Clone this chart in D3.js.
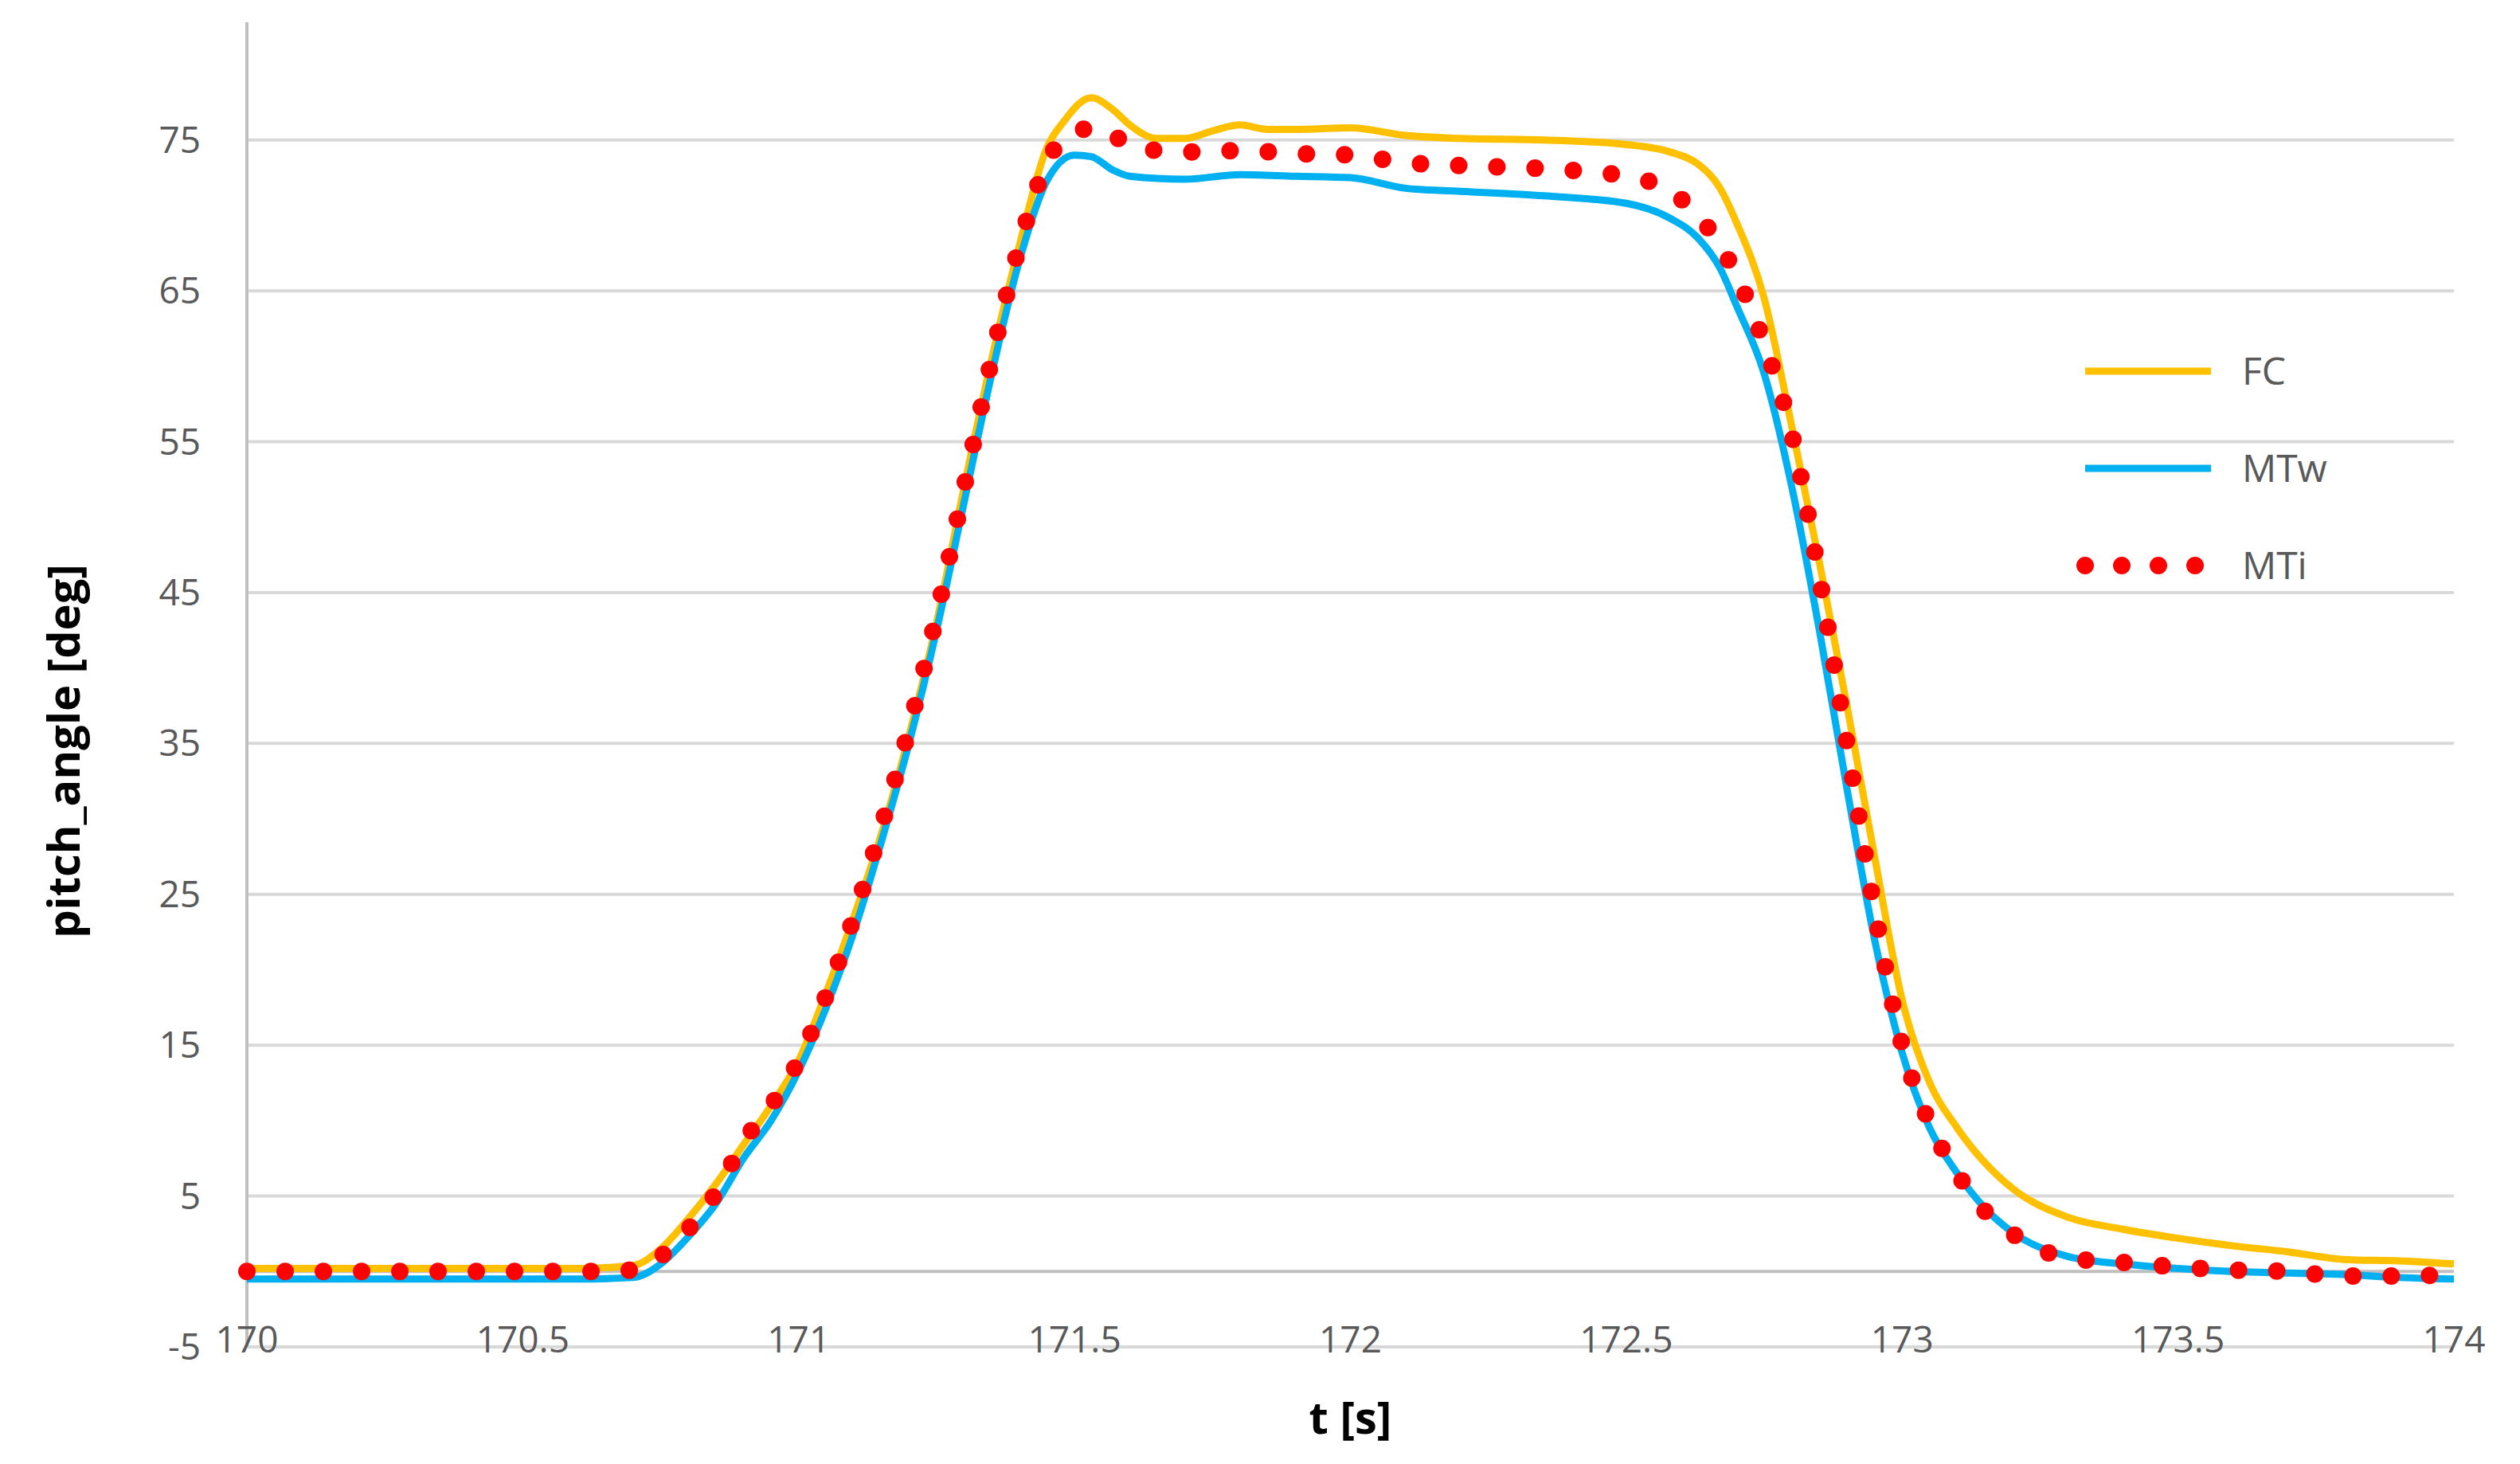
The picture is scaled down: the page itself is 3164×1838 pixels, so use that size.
<!DOCTYPE html>
<html lang="en">
<head>
<meta charset="UTF-8">
<title>pitch angle</title>
<style>
  body { margin: 0; background: #fff; }
  text { font-family: "Open Sans", "Noto Sans", sans-serif; }
</style>
</head>
<body>
<script src="https://cdn.jsdelivr.net/npm/d3@7"></script>
<script>
    // time samples [s] and the three series [deg]
    var tFC = [170, 170.3, 170.6, 170.7, 170.75, 170.8, 170.85, 170.9, 170.95, 171, 171.05, 171.1, 171.15, 171.2, 171.25, 171.3, 171.35, 171.4, 171.45, 171.48, 171.53, 171.57, 171.6, 171.65, 171.7, 171.75, 171.8, 171.85, 171.9, 172, 172.1, 172.2, 172.35, 172.5, 172.58, 172.63, 172.67, 172.7, 172.75, 172.8, 172.85, 172.9, 172.95, 173, 173.05, 173.1, 173.2, 173.3, 173.4, 173.5, 173.6, 173.7, 173.8, 173.9, 174];
    var valFC = [0.2, 0.2, 0.2, 0.4, 1.5, 3.5, 5.8, 8.4, 11, 14, 18.5, 23.5, 29, 35.5, 43, 52, 60.5, 68, 74.5, 76.2, 77.8, 77, 76, 75.1, 75.1, 75.6, 76, 75.7, 75.7, 75.8, 75.3, 75.1, 75, 74.7, 74.2, 73.4, 71.8, 69.5, 64.5, 56, 47, 37.5, 27.5, 18, 12.5, 9.5, 5.5, 3.6, 2.8, 2.2, 1.7, 1.3, 0.8, 0.7, 0.5];
    var tMTw = [170, 170.3, 170.6, 170.7, 170.75, 170.8, 170.85, 170.9, 170.95, 171, 171.05, 171.1, 171.15, 171.2, 171.25, 171.3, 171.35, 171.4, 171.45, 171.5, 171.53, 171.57, 171.6, 171.7, 171.8, 171.9, 172, 172.1, 172.2, 172.35, 172.5, 172.58, 172.63, 172.67, 172.7, 172.75, 172.8, 172.85, 172.9, 172.95, 173, 173.05, 173.1, 173.15, 173.2, 173.3, 173.4, 173.5, 173.6, 173.7, 173.8, 173.9, 174];
    var valMTw = [-0.5, -0.5, -0.5, -0.4, 0.5, 2.3, 4.5, 7.5, 10, 13.3, 17.5, 22.5, 28.5, 35, 42.5, 51, 59.5, 67, 72.3, 74, 73.9, 73, 72.6, 72.4, 72.7, 72.6, 72.5, 71.8, 71.6, 71.3, 70.8, 69.8, 68.5, 66.5, 64, 59.5, 52, 42.5, 32, 22, 14.5, 9.5, 6.5, 4.2, 2.6, 1, 0.5, 0.2, 0, -0.1, -0.2, -0.4, -0.5];
    var tMTi = [170, 170.3, 170.6, 170.7, 170.75, 170.8, 170.85, 170.9, 170.95, 171, 171.05, 171.1, 171.15, 171.2, 171.25, 171.3, 171.35, 171.4, 171.45, 171.5, 171.55, 171.6, 171.7, 171.8, 171.9, 172, 172.1, 172.2, 172.35, 172.5, 172.58, 172.63, 172.67, 172.7, 172.75, 172.8, 172.85, 172.9, 172.95, 173, 173.05, 173.1, 173.15, 173.2, 173.3, 173.4, 173.5, 173.6, 173.7, 173.8, 173.9, 174];
    var valMTi = [0, 0, 0, 0.1, 1, 2.8, 5.2, 8.6, 11, 14, 18.3, 23.5, 29.5, 36, 43.5, 52, 60.5, 68, 73.5, 75.6, 75.8, 74.6, 74.2, 74.3, 74.1, 74, 73.5, 73.3, 73.1, 72.6, 71.6, 70, 68, 66, 61.5, 55.5, 46, 35, 24, 15, 9.8, 6.5, 4, 2.5, 0.9, 0.6, 0.3, 0.1, 0, -0.3, -0.3, -0.2];

    var xTicks = [170, 170.5, 171, 171.5, 172, 172.5, 173, 173.5, 174];
    var yTicks = [-5, 5, 15, 25, 35, 45, 55, 65, 75];
    var seriesNames = ["FC", "MTw", "MTi"];

    var W = 3164, H = 1838;
    var mLeft = 310, mRight = 3081, mTop = 28, mBottom = 1691;

    var svg = d3.select("body").append("svg").attr("width", W).attr("height", H);

    var x = d3.scaleLinear().domain([170, 174]).range([mLeft, mRight]);
    var y = d3.scaleLinear().domain([-5, 82.8]).range([mBottom, mTop]);

    // gridlines
    svg.append("g").selectAll("line").data(yTicks).join("line")
        .attr("x1", mLeft).attr("x2", mRight)
        .attr("y1", function (d) { return y(d); }).attr("y2", function (d) { return y(d); })
        .attr("stroke", "#d9d9d9").attr("stroke-width", 4);

    // zero line and vertical axis
    svg.append("line").attr("x1", mLeft).attr("x2", mRight).attr("y1", y(0)).attr("y2", y(0))
        .attr("stroke", "#bfbfbf").attr("stroke-width", 4);
    svg.append("line").attr("x1", mLeft).attr("x2", mLeft).attr("y1", mTop).attr("y2", mBottom)
        .attr("stroke", "#bfbfbf").attr("stroke-width", 4);

    // tick labels
    svg.append("g").selectAll("text").data(yTicks).join("text")
        .attr("x", 252).attr("y", function (d) { return y(d); }).attr("dy", "0.35em")
        .attr("text-anchor", "end").attr("font-size", 46).attr("fill", "#595959")
        .text(function (d) { return d; });
    svg.append("g").selectAll("text").data(xTicks).join("text")
        .attr("x", function (d) { return x(d); }).attr("y", 1682).attr("dy", "0.35em")
        .attr("text-anchor", "middle").attr("font-size", 46).attr("fill", "#595959")
        .text(function (d) { return d; });

    // axis titles
    svg.append("text").attr("x", (mLeft + mRight) / 2).attr("y", 1800)
        .attr("text-anchor", "middle").attr("font-size", 56).attr("font-weight", "bold")
        .attr("fill", "#000").text("t [s]");
    svg.append("text").attr("transform", "translate(100," + 943 + ") rotate(-90)")
        .attr("text-anchor", "middle").attr("font-size", 56).attr("font-weight", "bold")
        .attr("fill", "#000").text("pitch_angle [deg]");

    var line = d3.line().x(function (d) { return x(d[0]); }).y(function (d) { return y(d[1]); })
        .curve(d3.curveMonotoneX);

    function pairs(ts, vs) { return ts.map(function (t, i) { return [t, vs[i]]; }); }

    svg.append("path").attr("d", line(pairs(tFC, valFC)))
        .attr("fill", "none").attr("stroke", "#ffc000").attr("stroke-width", 9);
    svg.append("path").attr("d", line(pairs(tMTw, valMTw)))
        .attr("fill", "none").attr("stroke", "#00b0f0").attr("stroke-width", 9);
    svg.append("path").attr("d", line(pairs(tMTi, valMTi)))
        .attr("fill", "none").attr("stroke", "#ff0000").attr("stroke-width", 22)
        .attr("stroke-linecap", "round").attr("stroke-dasharray", "0 48");

    // legend
    var styles = [
        { c: "#ffc000", w: 9, dash: null, cap: "butt" },
        { c: "#00b0f0", w: 9, dash: null, cap: "butt" },
        { c: "#ff0000", w: 22, dash: "0 46", cap: "round" }
    ];
    var lg = svg.append("g").selectAll("g").data(seriesNames).join("g")
        .attr("transform", function (d, i) { return "translate(0," + (466 + i * 122) + ")"; });
    lg.append("line").attr("x1", 2618).attr("x2", 2776)
        .attr("stroke", function (d, i) { return styles[i].c; })
        .attr("stroke-width", function (d, i) { return styles[i].w; })
        .attr("stroke-linecap", function (d, i) { return styles[i].cap; })
        .attr("stroke-dasharray", function (d, i) { return styles[i].dash; });
    lg.append("text").attr("x", 2815).attr("dy", "0.35em").attr("font-size", 48)
        .attr("fill", "#595959").text(function (d) { return d; });
</script>
</body>
</html>
